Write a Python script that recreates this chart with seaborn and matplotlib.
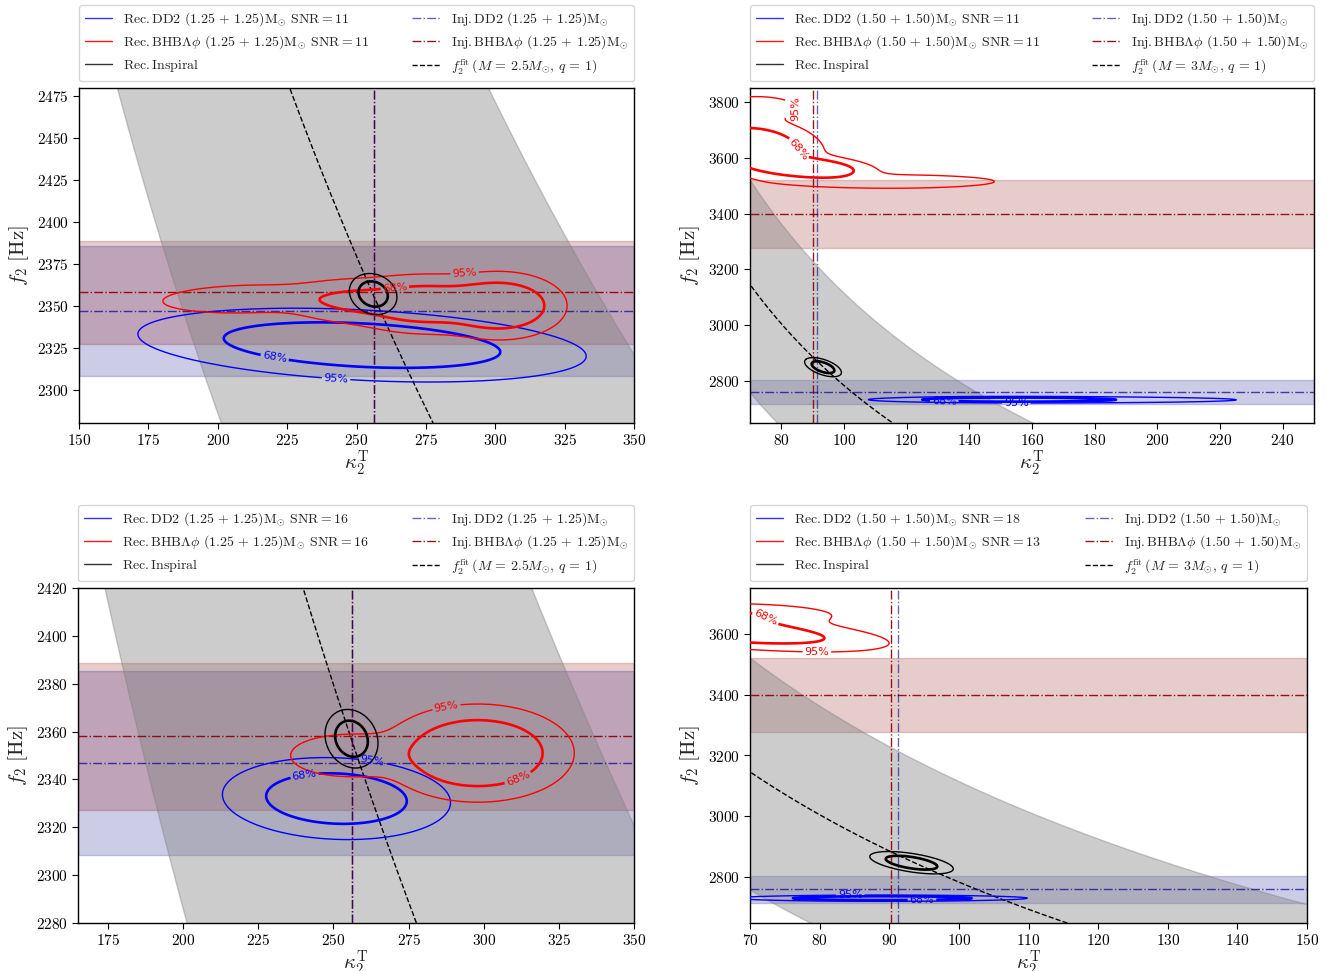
import numpy as np
import matplotlib
matplotlib.use("Agg")
import matplotlib.pyplot as plt
import seaborn as sns
from matplotlib.lines import Line2D

sns.set_style("ticks")
plt.rcParams.update({
    "font.family": "serif",
    "font.serif": ["cmr10"],
    "mathtext.fontset": "cm",
    "axes.formatter.use_mathtext": True,
    "axes.unicode_minus": False,
    "axes.edgecolor": "black",
    "axes.linewidth": 1.0,
    "xtick.color": "black",
    "ytick.color": "black",
    "xtick.direction": "out",
    "ytick.direction": "out",
    "xtick.major.size": 4,
    "ytick.major.size": 4,
})

# ---------------- data ----------------
# panel order: top-left, top-right, bottom-left, bottom-right
panel_xlim = [(150, 350), (70, 250), (165, 350), (70, 150)]
panel_ylim = [(2280, 2480), (2650, 3850), (2280, 2420), (2650, 3750)]
panel_xticks = [np.arange(150, 351, 25), np.arange(80, 241, 20),
                np.arange(175, 351, 25), np.arange(70, 151, 10)]
panel_yticks = [np.arange(2300, 2476, 25), np.arange(2800, 3801, 200),
                np.arange(2280, 2421, 20), np.arange(2800, 3601, 200)]
panel_mass = ["1.25", "1.50", "1.25", "1.50"]
panel_mtot = ["2.5", "3", "2.5", "3"]
snr_dd2 = [11, 11, 16, 18]
snr_bhb = [11, 11, 16, 13]

# injected values (kappa, f2, f2 band low, f2 band high)
inj_dd2_125 = [256.2, 2347.0, 2308.3, 2385.5]
inj_bhb_125 = [256.2, 2358.0, 2327.2, 2388.6]
inj_dd2_150 = [91.3, 2760.5, 2716.5, 2803.6]
inj_bhb_150 = [90.2, 3400.0, 3277.5, 3521.0]

# f2 fit curves: reference kappa, reference f2, power-law exponent
fit_25 = [277.6, 2280.0, 0.4083]
fit_30 = [70.4, 3140.0, 0.3425]
fit_err_lo = 0.123
fit_err_hi = 0.119

# posterior shapes: components [weight, kappa, f2, sigma_kappa, sigma_f2, rho]
tl_dd2 = [[1.0, 252.0, 2326.5, 33.0, 9.0, -0.30]]
tl_bhb = [[0.42, 302.0, 2350.0, 10.0, 8.5, 0.0],
          [0.35, 275.0, 2351.0, 13.0, 8.0, 0.0],
          [0.13, 248.0, 2353.0, 12.0, 6.5, 0.0],
          [0.10, 210.0, 2354.0, 18.0, 5.0, 0.15]]
tl_insp = [[1.0, 256.0, 2357.0, 3.5, 5.0, -0.15]]

tr_dd2 = [[0.65, 152.0, 2734.0, 16.0, 4.2, 0.0],
          [0.35, 172.0, 2733.0, 28.0, 5.5, 0.0]]
tr_bhb = [[0.55, 72.0, 3640.0, 9.0, 45.0, -0.2],
          [0.32, 88.0, 3565.0, 9.0, 20.0, -0.3],
          [0.08, 115.0, 3515.0, 22.0, 16.0, 0.0],
          [0.05, 72.0, 3780.0, 8.0, 25.0, 0.0]]
tr_insp = [[1.0, 93.3, 2850.0, 2.4, 14.0, -0.55]]

bl_dd2 = [[1.0, 251.0, 2332.0, 15.5, 7.0, -0.10]]
bl_bhb = [[0.90, 298.0, 2351.0, 13.0, 8.3, 0.0],
          [0.10, 255.0, 2350.0, 11.0, 5.0, 0.0]]
bl_insp = [[1.0, 256.0, 2357.0, 3.6, 5.0, -0.15]]

br_dd2 = [[1.0, 89.0, 2731.5, 8.5, 4.2, 0.0]]
br_bhb = [[0.8, 66.0, 3612.0, 10.0, 30.0, -0.6],
          [0.2, 66.0, 3660.0, 8.0, 20.0, 0.0]]
br_insp = [[1.0, 93.2, 2848.0, 2.45, 15.0, -0.55]]

# contour label anchor points: ([(kappa, f2) for 68%], [(kappa, f2) for 95%])
tl_lab = {"dd2": ([(220.5, 2319.0)], [(242.6, 2306.0)]),
          "bhb": ([(263.7, 2363.0)], [(288.7, 2375.5)])}
tr_lab = {"dd2": ([(132.0, 2729.0)], [(155.0, 2716.0)]),
          "bhb": ([(86.6, 3635.0)], [(91.0, 3770.0)])}
bl_lab = {"dd2": ([(240.3, 2342.5)], [(262.9, 2347.4)]),
          "bhb": ([(312.2, 2338.0)], [(287.9, 2368.0)])}
br_lab = {"dd2": ([(94.7, 2727.0)], [(84.4, 2737.0)]),
          "bhb": ([(71.9, 3642.0)], [(79.6, 3544.0)])}

# ---------------- helpers ----------------
def mixture(K, F, comps):
    Z = np.zeros_like(K)
    for w, mk, mf, sk, sf, r in comps:
        dk = (K - mk) / sk
        df = (F - mf) / sf
        q = (dk ** 2 - 2 * r * dk * df + df ** 2) / (1 - r ** 2)
        Z += w * np.exp(-0.5 * q) / (2 * np.pi * sk * sf * np.sqrt(1 - r ** 2))
    return Z


def hpd_levels(Z, probs):
    z = np.sort(Z.ravel())[::-1]
    c = np.cumsum(z)
    c /= c[-1]
    return [z[min(np.searchsorted(c, p), len(z) - 1)] for p in probs]


def draw_posterior(ax, comps, color, labels=None):
    comps = np.array(comps)
    kmin = np.min(comps[:, 1] - 6 * comps[:, 3])
    kmax = np.max(comps[:, 1] + 6 * comps[:, 3])
    fmin = np.min(comps[:, 2] - 6 * comps[:, 4])
    fmax = np.max(comps[:, 2] + 6 * comps[:, 4])
    kk = np.linspace(kmin, kmax, 500)
    ff = np.linspace(fmin, fmax, 500)
    K, F = np.meshgrid(kk, ff)
    Z = mixture(K, F, comps)
    l95, l68 = hpd_levels(Z, [0.95, 0.68])
    cs95 = ax.contour(K, F, Z, levels=[l95], colors=[color], linewidths=[1.0], zorder=5)
    cs68 = ax.contour(K, F, Z, levels=[l68], colors=[color], linewidths=[1.9], zorder=5)
    if labels is not None:
        pos68, pos95 = labels
        texts = []
        texts += list(ax.clabel(cs68, fmt={l68: "68%"}, manual=pos68,
                                inline=True, fontsize=8, inline_spacing=4))
        texts += list(ax.clabel(cs95, fmt={l95: "95%"}, manual=pos95,
                                inline=True, fontsize=8, inline_spacing=4))
        for t in texts:
            t.set_fontfamily("DejaVu Sans")


# ---------------- figure ----------------
W, H = 1329, 971
fig = plt.figure(figsize=(W / 100, H / 100), dpi=100)
rects_px = [(79, 88, 634, 423), (750, 88, 1314, 423),
            (78, 588, 634, 923), (750, 588, 1307, 923)]

posts = [(tl_dd2, tl_bhb, tl_insp, tl_lab), (tr_dd2, tr_bhb, tr_insp, tr_lab),
         (bl_dd2, bl_bhb, bl_insp, bl_lab), (br_dd2, br_bhb, br_insp, br_lab)]

for i in range(4):
    x0, y0, x1, y1 = rects_px[i]
    ax = fig.add_axes([x0 / W, 1 - y1 / H, (x1 - x0) / W, (y1 - y0) / H])
    xl, yl = panel_xlim[i], panel_ylim[i]
    ax.set_xlim(*xl)
    ax.set_ylim(*yl)
    heavy = panel_mass[i] == "1.50"
    inj_dd2 = inj_dd2_150 if heavy else inj_dd2_125
    inj_bhb = inj_bhb_150 if heavy else inj_bhb_125
    fit = fit_30 if heavy else fit_25

    # injected f2 bands
    ax.axhspan(inj_dd2[2], inj_dd2[3], color="darkblue", alpha=0.2, zorder=1)
    ax.axhspan(inj_bhb[2], inj_bhb[3], color="darkred", alpha=0.2, zorder=1)

    # fit band + line
    kk = np.linspace(xl[0] - 5, xl[1] + 5, 400)
    ffit = fit[1] * (kk / fit[0]) ** (-fit[2])
    ax.fill_between(kk, ffit * (1 - fit_err_lo), ffit * (1 + fit_err_hi),
                    color="gray", alpha=0.4, zorder=2)
    sns.lineplot(x=kk, y=ffit, ax=ax, color="black", linestyle="--",
                 linewidth=1.0, zorder=3)

    # injected values
    ax.axhline(inj_dd2[1], color="darkblue", alpha=0.7, ls="-.", lw=1.0, zorder=3)
    ax.axhline(inj_bhb[1], color="darkred", alpha=0.9, ls="-.", lw=1.0, zorder=3)
    ax.axvline(inj_bhb[0], color="darkred", alpha=0.9, ls="-.", lw=1.0, zorder=3)
    ax.axvline(inj_dd2[0], color="darkblue", alpha=0.6, ls="-.", lw=1.0, zorder=3)

    ax.set_xlim(*xl)
    ax.set_ylim(*yl)

    dd2, bhb, insp, lab = posts[i]
    draw_posterior(ax, dd2, "blue", lab["dd2"])
    draw_posterior(ax, bhb, "red", lab["bhb"])
    draw_posterior(ax, insp, "black", None)

    ax.set_xlim(*xl)
    ax.set_ylim(*yl)
    ax.set_xticks(panel_xticks[i])
    ax.set_yticks(panel_yticks[i])
    ax.tick_params(labelsize=11)
    ax.set_xlabel(r"$\kappa_2^{\rm T}$", fontsize=15, labelpad=0)
    ax.set_ylabel(r"$f_2\ [{\rm Hz}]$", fontsize=15)

    m = panel_mass[i]
    handles = [
        Line2D([], [], color="blue", lw=1.0, alpha=0.8),
        Line2D([], [], color="red", lw=1.0, alpha=0.9),
        Line2D([], [], color="black", lw=1.0, alpha=0.8),
        Line2D([], [], color="darkblue", alpha=0.6, ls="-.", lw=1.0),
        Line2D([], [], color="darkred", alpha=0.9, ls="-.", lw=1.0),
        Line2D([], [], color="black", ls="--", lw=1.0),
    ]
    labels = [
        r"Rec.$\,$DD2 $(%s\,+\,%s)\mathrm{M}_{\odot}$ SNR$=$%d" % (m, m, snr_dd2[i]),
        r"Rec.$\,$BHB$\Lambda\phi$ $(%s\,+\,%s)\mathrm{M}_{\odot}$ SNR$=$%d" % (m, m, snr_bhb[i]),
        r"Rec.$\,$Inspiral",
        r"Inj.$\,$DD2 $(%s\,+\,%s)\mathrm{M}_{\odot}$" % (m, m),
        r"Inj.$\,$BHB$\Lambda\phi$ $(%s\,+\,%s)\mathrm{M}_{\odot}$" % (m, m),
        r"$f_2^{\rm fit}\,(M\,=\,%sM_{\odot},\,q\,=\,1)$" % panel_mtot[i],
    ]
    ax.legend(handles, labels, loc="lower left", bbox_to_anchor=(0, 1.02, 1, 0.2),
              mode="expand", ncol=2, borderaxespad=0, fontsize=10,
              labelspacing=0.4)

fig.savefig("out.png", dpi=100)
